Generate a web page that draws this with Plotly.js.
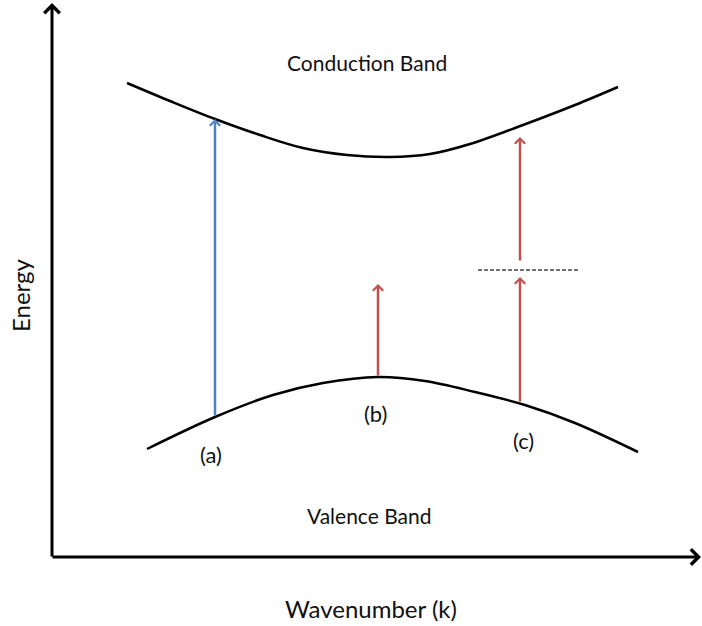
<!DOCTYPE html>
<html>
<head>
<meta charset="utf-8">
<script src="https://cdn.plot.ly/plotly-3.0.1.min.js"></script>
<style>html,body{margin:0;padding:0;background:#fff;}#chart{width:702px;height:626px;}</style>
</head>
<body>
<div id="chart"></div>
<script>
// Band diagram: energy (arbitrary units) against wavenumber k (arbitrary units)
const conductionK = [0.75, 1.18, 1.63, 2.08, 2.51, 2.95, 3.38, 3.78, 4.18, 4.71, 5.23, 5.66];
const conductionE = [4.74, 4.56, 4.38, 4.22, 4.09, 4.02, 4.00, 4.03, 4.13, 4.32, 4.52, 4.70];
const valenceK = [0.95, 1.63, 2.21, 2.71, 3.26, 3.73, 4.23, 4.73, 5.23, 5.86];
const valenceE = [1.08, 1.40, 1.62, 1.74, 1.80, 1.76, 1.65, 1.52, 1.34, 1.05];

// Transitions: k position, start energy, end energy
const transitionK = [1.63, 3.26, 4.68, 4.68];
const transitionFrom = [1.40, 1.80, 1.54, 2.95];
const transitionTo = [4.38, 2.73, 2.80, 4.20];
const transitionColor = ['#4f81bd', '#c0504d', '#c0504d', '#c0504d'];

// Virtual level for the two-step transition
const virtualK = [4.26, 5.26];
const virtualE = [2.87, 2.87];

// Axis arrows
const axisLength = {k: 6.49, E: 5.54};

const labels = ['Conduction Band', 'Valence Band', '(a)', '(b)', '(c)'];
const labelK = [3.145, 3.17, 1.59, 3.23, 4.71];
const labelE = [4.95, 0.42, 1.03, 1.44, 1.17];
const labelSize = [21, 21, 22, 22, 22];

const family = 'Lato, "Open Sans", sans-serif';
const textColor = '#111';

const traces = [
  {x: conductionK, y: conductionE, mode: 'lines', line: {color: '#000', width: 2.5, shape: 'spline', smoothing: 1}, hoverinfo: 'skip'},
  {x: valenceK, y: valenceE, mode: 'lines', line: {color: '#000', width: 2.5, shape: 'spline', smoothing: 1}, hoverinfo: 'skip'},
  {x: virtualK, y: virtualE, mode: 'lines', line: {color: '#444', width: 1.5, dash: '4px,2px'}, hoverinfo: 'skip'}
];

const annotations = [];
// axes
annotations.push({x: 0, y: axisLength.E, ax: 0, ay: -0.01, xref: 'x', yref: 'y', axref: 'x', ayref: 'y',
  text: '', showarrow: true, arrowhead: 4, arrowsize: 1, arrowwidth: 3, arrowcolor: '#000'});
annotations.push({x: axisLength.k, y: 0, ax: -0.01, ay: 0, xref: 'x', yref: 'y', axref: 'x', ayref: 'y',
  text: '', showarrow: true, arrowhead: 4, arrowsize: 1, arrowwidth: 3, arrowcolor: '#000'});
// transitions
transitionK.forEach((k, i) => {
  annotations.push({x: k, y: transitionTo[i], ax: k, ay: transitionFrom[i], xref: 'x', yref: 'y', axref: 'x', ayref: 'y',
    text: '', showarrow: true, arrowhead: 4, arrowsize: 0.8, arrowwidth: 2.5, arrowcolor: transitionColor[i]});
});
// labels
labels.forEach((t, i) => {
  annotations.push({x: labelK[i], y: labelE[i], xref: 'x', yref: 'y', text: t, showarrow: false,
    font: {family: family, size: labelSize[i], color: textColor}});
});
// axis titles
annotations.push({x: 3.19, y: -0.51, xref: 'x', yref: 'y', text: 'Wavenumber (k)', showarrow: false,
  font: {family: family, size: 24, color: textColor}});
annotations.push({x: -0.32, y: 2.62, xref: 'x', yref: 'y', text: 'Energy', textangle: -90, showarrow: false,
  font: {family: family, size: 24, color: textColor}});

const layout = {
  width: 702, height: 626,
  margin: {l: 0, r: 0, t: 0, b: 0},
  paper_bgcolor: '#fff', plot_bgcolor: '#fff',
  showlegend: false,
  xaxis: {range: [-0.52, 6.50], visible: false, fixedrange: true},
  yaxis: {range: [-0.69, 5.57], visible: false, fixedrange: true},
  annotations: annotations
};

Plotly.newPlot('chart', traces, layout, {staticPlot: true});
</script>
</body>
</html>
